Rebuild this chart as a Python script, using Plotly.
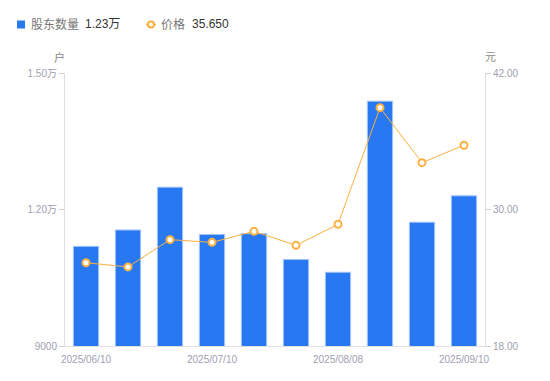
import plotly.graph_objects as go

dates = ["2025/06/10", "2025/06/20", "2025/06/30", "2025/07/10", "2025/07/18",
         "2025/07/31", "2025/08/08", "2025/08/20", "2025/08/29", "2025/09/10"]
holders = [11190, 11550, 12490, 11450, 11470, 10900, 10620, 14380, 11720, 12300]
price = [25.32, 24.95, 27.35, 27.11, 28.08, 26.85, 28.70, 38.95, 34.12, 35.65]

x_ticks = ["2025/06/10", "2025/07/10", "2025/08/08", "2025/09/10"]
left_ticks = [9000, 12000, 15000]
left_ticktext = ["9000", "1.20万", "1.50万"]
right_ticks = [18, 30, 42]

BLUE = "#2878f2"
ORANGE = "#fbb040"
TICK = "#a0a0b0"
FONT = "Liberation Sans, Arial, Noto Sans CJK SC"

# page has an 8px body margin; plot area in page px: x 65..485, y 73..346
PX0, PX1, PY0, PY1 = 65, 485, 73, 346

def px(x):
    return (x - PX0) / (PX1 - PX0)

def py(y):
    return (PY1 - y) / (PY1 - PY0)

def wan(v):
    return f"{v/10000:.2f}万"

fig = go.Figure()
fig.add_trace(go.Bar(
    x=dates, y=holders, name="股东数量",
    marker=dict(color=BLUE, line=dict(color="#9fc3fb", width=1)),
    yaxis="y",
))
fig.add_trace(go.Scatter(
    x=dates, y=price, name="价格",
    mode="lines+markers",
    line=dict(color=ORANGE, width=1),
    marker=dict(symbol="circle", size=7, color="white", line=dict(color=ORANGE, width=2)),
    yaxis="y2",
))

LEG_Y = 24.5
shapes = [
    dict(type="rect", xref="paper", yref="paper", x0=px(17), x1=px(25), y0=py(20.5), y1=py(28.5),
         fillcolor=BLUE, line=dict(width=0)),
    dict(type="line", xref="paper", yref="paper", x0=px(146), x1=px(156), y0=py(LEG_Y), y1=py(LEG_Y),
         line=dict(color=ORANGE, width=1.5)),
    dict(type="circle", xref="paper", yref="paper", x0=px(148), x1=px(154), y0=py(21.5), y1=py(27.5),
         fillcolor="white", line=dict(color=ORANGE, width=2)),
]

def ann(text, x, y, size=12, color="#666", xanchor="left"):
    return dict(text=text, xref="paper", yref="paper", x=px(x), y=py(y), showarrow=False,
                font=dict(size=size, color=color), xanchor=xanchor, yanchor="middle",
                xshift=0, yshift=0, borderpad=0)

annotations = [
    ann("股东数量", 30, LEG_Y, color="#777"),
    ann(wan(holders[-1]), 84, LEG_Y, color="#333"),
    ann("价格", 160, LEG_Y, color="#777"),
    ann(f"{price[-1]:.3f}", 191, LEG_Y, color="#333"),
    ann("户", 59, 57, size=11, color="#888", xanchor="center"),
    ann("元", 490, 57, size=11, color="#888", xanchor="center"),
]

fig.update_layout(
    width=534, height=365,
    margin=dict(l=57, r=57, t=65, b=27),
    plot_bgcolor="white", paper_bgcolor="white",
    font=dict(family=FONT, size=10, color=TICK),
    bargap=0.4,
    showlegend=False,
    shapes=shapes,
    annotations=annotations,
    xaxis=dict(
        type="category", range=[-0.5, len(dates) - 0.5],
        tickmode="array", tickvals=x_ticks, ticktext=x_ticks,
        showline=True, linecolor="#e0e0e0", linewidth=1,
        showgrid=False, ticks="", tickfont=dict(size=10, color=TICK),
        ticklabelstandoff=4, zeroline=False, automargin=False,
    ),
    yaxis=dict(
        range=[9000, 15000], tickmode="array", tickvals=left_ticks, ticktext=left_ticktext,
        showline=True, linecolor="#e0e0e0", linewidth=1, showgrid=False, zeroline=False,
        ticks="outside", ticklen=5, tickcolor="#d0d0d0", tickfont=dict(size=10, color=TICK),
        automargin=False,
    ),
    yaxis2=dict(
        range=[18, 42], tickmode="array", tickvals=right_ticks, tickformat=".2f",
        overlaying="y", side="right",
        showline=True, linecolor="#e0e0e0", linewidth=1, showgrid=False, zeroline=False,
        ticks="outside", ticklen=5, tickcolor="#d0d0d0", tickfont=dict(size=10, color=TICK),
        automargin=False,
    ),
)

fig.write_html("out.html")
